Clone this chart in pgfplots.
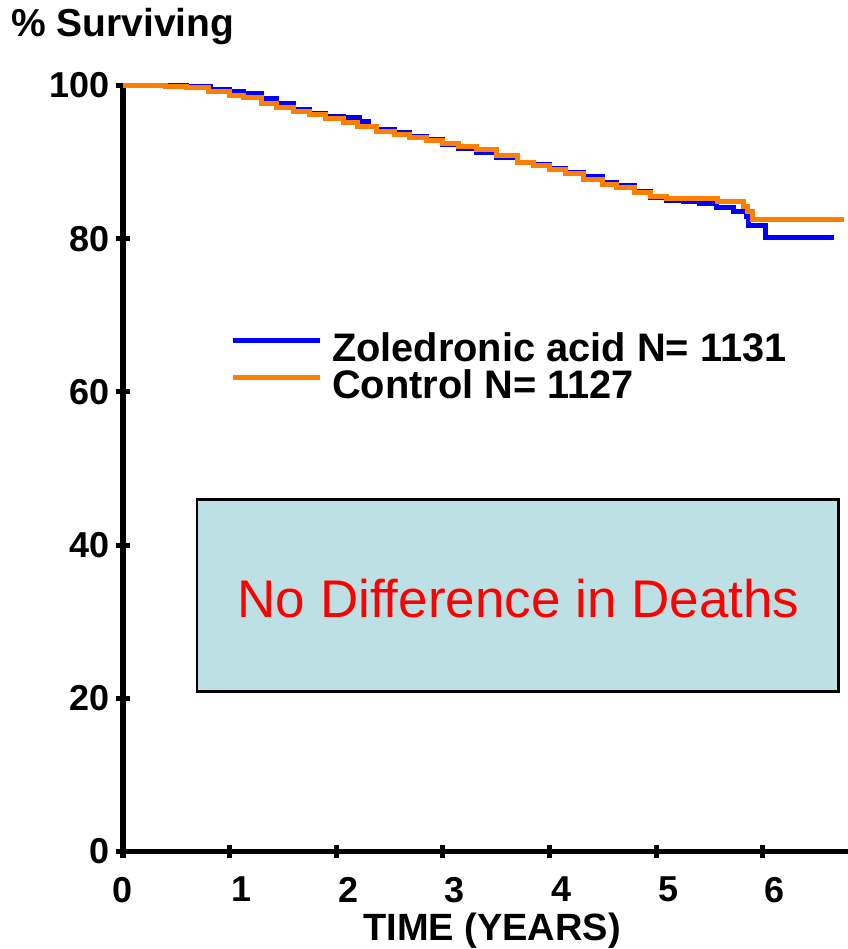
\documentclass[border=0pt]{standalone}
\usepackage{fontspec}
\setmainfont{Liberation Sans}
\usepackage{pgfplots}
\pgfplotsset{compat=1.18}
\definecolor{zol}{RGB}{0,0,255}
\definecolor{ctl}{RGB}{255,128,0}
\definecolor{boxc}{RGB}{188,224,227}
\begin{document}
\begin{tikzpicture}
\begin{axis}[
  at={(0,0)}, anchor=origin,
  width=362.5bp, height=383bp, scale only axis,
  xmin=0, xmax=6.8, ymin=0, ymax=100,
  axis x line=bottom, axis y line=left,
  axis line style={line width=2.5bp, -},
  xtick={0,1,2,3,4,5,6}, ytick={0,20,40,60,80,100},
  xticklabels={{\kern-12bp 0},1,2,3,4,5,6},
  yticklabels={0,20,40,60,80,100},
  tick align=center, major tick length=6.5bp,
  tick style={line width=2.5bp, black},
  xticklabel style={font=\fontsize{18bp}{18bp}\selectfont\bfseries, xshift=6bp, anchor=north, yshift=-6bp},
  yticklabel style={font=\fontsize{18bp}{18bp}\selectfont\bfseries, anchor=east},
  xlabel={TIME (YEARS)},
  xlabel style={at={(rel axis cs:0.509,0)}, anchor=base, yshift=-44.25bp, font=\fontsize{19bp}{19bp}\selectfont\bfseries},
  ylabel={\% Surviving},
  ylabel style={rotate=-90, at={(rel axis cs:0,1)}, anchor=base west, xshift=-59.5bp, yshift=24.5bp, font=\fontsize{19.5bp}{19.5bp}\selectfont\bfseries},
  clip=false,
  legend style={at={(axis cs:1.0,67.7)}, anchor=north west, draw=none, fill=none, inner sep=0pt, row sep=0pt,
    font=\fontsize{19.9bp}{19.9bp}\selectfont\bfseries,
    nodes={inner sep=0pt, text height=14bp, text depth=4.5bp},
    /tikz/every odd column/.append style={column sep=5bp}},
  legend cell align=left,
  legend image code/.code={\draw[#1, line width=2.5bp] (0bp,5.8bp) -- (43.5bp,5.8bp);},
]
\addplot[const plot, zol, line width=2.5bp] coordinates {
(0,100) (0.3,100) (0.6,99.9) (0.82,99.5) (1.0,99.2) (1.13,98.9) (1.3,98.3) (1.44,97.7)
(1.6,96.9) (1.75,96.4) (1.9,96.0) (2.07,95.8) (2.22,95.3) (2.3,94.7) (2.38,94.2) (2.55,93.8)
(2.69,93.4) (2.85,92.9) (3.0,92.3) (3.15,91.8) (3.32,91.3) (3.5,90.6) (3.7,90.0) (3.85,89.7)
(4.0,89.1) (4.15,88.6) (4.32,88.1) (4.5,87.4) (4.63,86.9) (4.8,86.2) (4.95,85.4) (5.1,85.0)
(5.26,84.9) (5.41,84.6) (5.57,84.1) (5.73,83.6) (5.85,82.9) (5.87,81.7) (6.03,80.2) (6.67,80.2)
};
\addlegendentry{Zoledronic acid N= 1131}
\addplot[const plot, ctl, line width=2.5bp] coordinates {
(0,100) (0.2,100) (0.4,99.9) (0.6,99.7) (0.8,99.2) (1.0,98.7) (1.13,98.4) (1.3,97.7)
(1.44,97.1) (1.6,96.6) (1.75,96.2) (1.9,95.7) (2.07,95.2) (2.2,94.7) (2.38,94.0) (2.55,93.6)
(2.69,93.2) (2.85,92.8) (3.0,92.4) (3.15,92.0) (3.32,91.6) (3.5,90.8) (3.7,90.0) (3.85,89.6)
(4.0,89.0) (4.15,88.5) (4.32,87.7) (4.5,87.1) (4.63,86.7) (4.8,86.0) (4.95,85.5) (5.1,85.3)
(5.58,84.9) (5.82,84.2) (5.86,83.5) (5.9,82.5) (6.76,82.5)
};
\addlegendentry{Control N= 1127}
\draw[fill=boxc, line width=1.2bp] (axis cs:0.695,45.95) rectangle (axis cs:6.71,20.9);
\node[anchor=base, text=red, font=\fontsize{26.5bp}{26.5bp}\selectfont] at (axis cs:3.71,30.5) {No Difference in Deaths};
\end{axis}
\pgfresetboundingbox
\path[use as bounding box] (-61.5bp,-48.75bp) rectangle (362.5bp,425.75bp);
\end{tikzpicture}
\end{document}
